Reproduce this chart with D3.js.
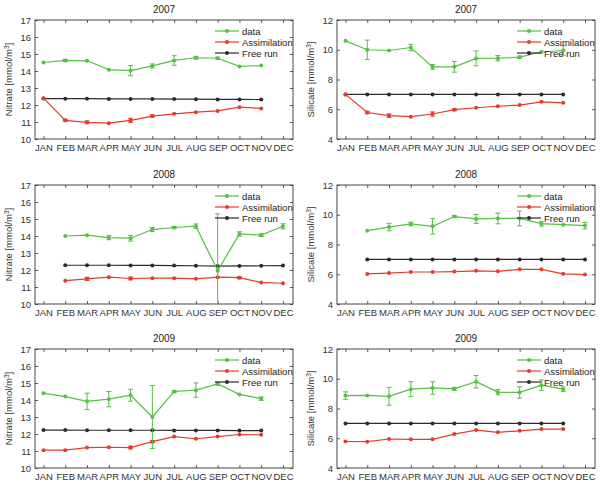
<!DOCTYPE html>
<html>
<head>
<meta charset="utf-8">
<script src="https://cdn.jsdelivr.net/npm/d3@7"></script>
<style>
  body { margin: 0; background: #fff; }
  svg { font-family: "Liberation Sans", Arial, sans-serif; }
</style>
</head>
<body>
<svg id="chart" width="607" height="487"></svg>
<script>
const months = ["JAN", "FEB", "MAR", "APR", "MAY", "JUN", "JUL", "AUG", "SEP", "OCT", "NOV", "DEC"];

// Nitrate 2007 (JAN..NOV)
const no3_2007_data = [14.5, 14.62, 14.6, 14.08, 14.02, 14.3, 14.62, 14.78, 14.75, 14.27, 14.32];
const no3_2007_err = [0.03, 0.07, 0.05, 0.04, 0.3, 0.12, 0.28, 0.08, 0.06, 0.04, 0.04];
const no3_2007_assim = [12.4, 11.1, 10.98, 10.93, 11.1, 11.35, 11.48, 11.58, 11.65, 11.87, 11.8];
const no3_2007_assimErr = [0.03, 0.06, 0.08, 0.03, 0.12, 0.06, 0.03, 0.04, 0.03, 0.04, 0.04];
const no3_2007_free = [12.38, 12.37, 12.37, 12.36, 12.36, 12.36, 12.35, 12.34, 12.33, 12.33, 12.32];

// Silicate 2007 (JAN..NOV)
const si_2007_data = [10.6, 10.0, 9.95, 10.15, 8.85, 8.85, 9.42, 9.43, 9.5, 9.85, 9.95];
const si_2007_err = [0.04, 0.65, 0.05, 0.22, 0.16, 0.36, 0.5, 0.18, 0.08, 0.04, 0.32];
const si_2007_assim = [7.0, 5.78, 5.57, 5.5, 5.68, 5.97, 6.1, 6.2, 6.28, 6.5, 6.43];
const si_2007_assimErr = [0.03, 0.08, 0.12, 0.04, 0.14, 0.06, 0.04, 0.04, 0.04, 0.05, 0.05];
const si_2007_free = [7.0, 7.0, 7.0, 7.0, 7.0, 7.0, 7.0, 7.0, 7.0, 7.0, 7.0];

// Nitrate 2008 (FEB..DEC)
const no3_2008_data = [14.0, 14.05, 13.9, 13.87, 14.38, 14.5, 14.58, 11.95, 14.12, 14.05, 14.57];
const no3_2008_err = [0.04, 0.05, 0.12, 0.17, 0.12, 0.06, 0.13, 3.35, 0.13, 0.08, 0.15];
const no3_2008_assim = [11.37, 11.48, 11.58, 11.5, 11.52, 11.52, 11.48, 11.58, 11.55, 11.27, 11.22];
const no3_2008_assimErr = [0.04, 0.09, 0.04, 0.08, 0.05, 0.04, 0.04, 0.04, 0.06, 0.04, 0.04];
const no3_2008_free = [12.28, 12.28, 12.28, 12.27, 12.27, 12.26, 12.25, 12.23, 12.24, 12.25, 12.26];

// Silicate 2008 (FEB..DEC)
const si_2008_data = [8.93, 9.17, 9.38, 9.22, 9.88, 9.72, 9.75, 9.75, 9.4, 9.33, 9.27];
const si_2008_err = [0.05, 0.25, 0.12, 0.52, 0.06, 0.3, 0.36, 0.5, 0.16, 0.05, 0.22];
const si_2008_assim = [6.02, 6.08, 6.15, 6.15, 6.18, 6.23, 6.2, 6.33, 6.33, 6.03, 5.98];
const si_2008_assimErr = [0.04, 0.05, 0.05, 0.05, 0.04, 0.04, 0.04, 0.04, 0.05, 0.04, 0.04];
const si_2008_free = [7.0, 7.0, 7.0, 7.0, 7.0, 7.0, 7.0, 7.0, 7.0, 7.0, 7.0];

// Nitrate 2009 (JAN..NOV)
const no3_2009_data = [14.4, 14.2, 13.92, 14.05, 14.28, 13.0, 14.5, 14.58, 14.95, 14.33, 14.08];
const no3_2009_err = [0.05, 0.05, 0.48, 0.45, 0.35, 1.85, 0.06, 0.42, 0.08, 0.05, 0.1];
const no3_2009_assim = [11.05, 11.05, 11.2, 11.22, 11.2, 11.55, 11.85, 11.72, 11.85, 11.97, 11.95];
const no3_2009_assimErr = [0.04, 0.04, 0.04, 0.04, 0.08, 0.06, 0.04, 0.04, 0.04, 0.04, 0.04];
const no3_2009_free = [12.23, 12.23, 12.22, 12.22, 12.22, 12.22, 12.21, 12.21, 12.21, 12.2, 12.2];

// Silicate 2009 (JAN..NOV)
const si_2009_data = [8.87, 8.88, 8.82, 9.3, 9.38, 9.32, 9.8, 9.1, 9.08, 9.57, 9.3];
const si_2009_err = [0.25, 0.05, 0.6, 0.5, 0.42, 0.1, 0.42, 0.18, 0.38, 0.35, 0.15];
const si_2009_assim = [5.78, 5.77, 5.95, 5.93, 5.93, 6.28, 6.55, 6.4, 6.5, 6.62, 6.62];
const si_2009_assimErr = [0.04, 0.04, 0.04, 0.04, 0.04, 0.05, 0.04, 0.04, 0.04, 0.04, 0.04];
const si_2009_free = [7.0, 7.0, 7.0, 7.0, 7.0, 7.0, 7.0, 7.0, 7.0, 7.0, 7.0];

const firstMonth = { 2007: 1, 2008: 2, 2009: 1 };

const panels = [
  { year: 2007, col: 0, row: 0, label: "Nitrate", dom: [10, 17], ticks: d3.range(10, 18, 1), data: no3_2007_data, err: no3_2007_err, assim: no3_2007_assim, assimErr: no3_2007_assimErr, free: no3_2007_free },
  { year: 2007, col: 1, row: 0, label: "Silicate", dom: [4, 12], ticks: d3.range(4, 13, 2), data: si_2007_data, err: si_2007_err, assim: si_2007_assim, assimErr: si_2007_assimErr, free: si_2007_free },
  { year: 2008, col: 0, row: 1, label: "Nitrate", dom: [10, 17], ticks: d3.range(10, 18, 1), data: no3_2008_data, err: no3_2008_err, assim: no3_2008_assim, assimErr: no3_2008_assimErr, free: no3_2008_free },
  { year: 2008, col: 1, row: 1, label: "Silicate", dom: [4, 12], ticks: d3.range(4, 13, 2), data: si_2008_data, err: si_2008_err, assim: si_2008_assim, assimErr: si_2008_assimErr, free: si_2008_free },
  { year: 2009, col: 0, row: 2, label: "Nitrate", dom: [10, 17], ticks: d3.range(10, 18, 1), data: no3_2009_data, err: no3_2009_err, assim: no3_2009_assim, assimErr: no3_2009_assimErr, free: no3_2009_free },
  { year: 2009, col: 1, row: 2, label: "Silicate", dom: [4, 12], ticks: d3.range(4, 13, 2), data: si_2009_data, err: si_2009_err, assim: si_2009_assim, assimErr: si_2009_assimErr, free: si_2009_free }
];

const colLeft = [35, 337];
const boxW = 258;
const rowTop = [20, 185, 349];
const boxH = 119;

const GREEN = "#55c043", RED = "#e8392c", BLACK = "#2b2b2b";

const svg = d3.select("#chart");

panels.forEach(p => {
  const x0 = colLeft[p.col], y0 = rowTop[p.row];
  const g = svg.append("g").attr("transform", `translate(${x0},${y0})`);

  const x = d3.scaleLinear().domain([0.61, 12.46]).range([0, boxW]);
  const y = d3.scaleLinear().domain(p.dom).range([boxH, 0]);

  const clipId = `clip-${p.row}-${p.col}`;
  g.append("clipPath").attr("id", clipId)
    .append("rect").attr("width", boxW).attr("height", boxH);

  // axes (MATLAB style: inward ticks on all sides)
  const ax = g.append("g").attr("class", "axes");
  ax.append("g").attr("transform", `translate(0,${boxH})`)
    .call(d3.axisBottom(x).tickValues(d3.range(1, 13)).tickFormat(d => months[d - 1]).tickSizeInner(-3).tickSizeOuter(0).tickPadding(5));
  ax.append("g")
    .call(d3.axisTop(x).tickValues(d3.range(1, 13)).tickFormat("").tickSizeInner(-3).tickSizeOuter(0));
  ax.append("g")
    .call(d3.axisLeft(y).tickValues(p.ticks).tickFormat(d3.format("d")).tickSizeInner(-3).tickSizeOuter(0).tickPadding(4));
  ax.append("g").attr("transform", `translate(${boxW},0)`)
    .call(d3.axisRight(y).tickValues(p.ticks).tickFormat("").tickSizeInner(-3).tickSizeOuter(0));
  ax.selectAll(".domain").remove();
  ax.selectAll("line").attr("stroke", "#333").attr("stroke-width", 0.8);
  ax.selectAll("text").attr("fill", "#333").attr("font-size", 9.5);

  g.append("rect").attr("width", boxW).attr("height", boxH)
    .attr("fill", "none").attr("stroke", "#333").attr("stroke-width", 0.9);

  // title and y label
  g.append("text").attr("x", boxW / 2).attr("y", -7).attr("text-anchor", "middle")
    .attr("font-size", 10).attr("fill", "#222").text(p.year);
  g.append("text").attr("transform", `translate(-23,${boxH / 2}) rotate(-90)`)
    .attr("text-anchor", "middle").attr("font-size", 9.5).attr("fill", "#333")
    .call(t => {
      t.append("tspan").text(`${p.label} [mmol/m`);
      t.append("tspan").attr("baseline-shift", "super").attr("font-size", 6.5).text("3");
      t.append("tspan").text("]");
    });

  const start = firstMonth[p.year];
  const toPts = (vals, errs) => vals.map((v, i) => ({ m: start + i, v, e: errs ? errs[i] : 0 }));

  const plot = g.append("g").attr("clip-path", `url(#${clipId})`);
  const line = d3.line().x(d => x(d.m)).y(d => y(d.v));

  const drawSeries = (pts, color, withErr) => {
    plot.append("path").datum(pts).attr("d", line)
      .attr("fill", "none").attr("stroke", color).attr("stroke-width", 1.2);
    if (withErr) {
      const eb = plot.append("g").selectAll("g").data(pts.filter(d => d.e > 0.05)).join("g")
        .attr("stroke", color).attr("stroke-width", 1);
      eb.append("line").attr("x1", d => x(d.m)).attr("x2", d => x(d.m))
        .attr("y1", d => y(d.v - d.e)).attr("y2", d => y(d.v + d.e));
      eb.append("line").attr("x1", d => x(d.m) - 2.5).attr("x2", d => x(d.m) + 2.5)
        .attr("y1", d => y(d.v - d.e)).attr("y2", d => y(d.v - d.e));
      eb.append("line").attr("x1", d => x(d.m) - 2.5).attr("x2", d => x(d.m) + 2.5)
        .attr("y1", d => y(d.v + d.e)).attr("y2", d => y(d.v + d.e));
    }
    plot.append("g").selectAll("circle").data(pts).join("circle")
      .attr("cx", d => x(d.m)).attr("cy", d => y(d.v)).attr("r", 2)
      .attr("fill", color);
  };

  drawSeries(toPts(p.free), BLACK, false);
  drawSeries(toPts(p.assim, p.assimErr), RED, true);
  drawSeries(toPts(p.data, p.err), GREEN, true);

  // legend (no background)
  const legend = [["data", GREEN], ["Assimilation", RED], ["Free run", BLACK]];
  const lg = g.append("g").attr("transform", `translate(${boxW - 78},11)`);
  legend.forEach(([name, color], i) => {
    const row = lg.append("g").attr("transform", `translate(0,${i * 11})`);
    row.append("line").attr("x1", 0).attr("x2", 24).attr("stroke", color).attr("stroke-width", 1.2);
    row.append("circle").attr("cx", 12).attr("r", 2).attr("fill", color);
    row.append("text").attr("x", 27).attr("y", 3.5).attr("font-size", 9.5).attr("fill", "#222").text(name);
  });
});
</script>
</body>
</html>
